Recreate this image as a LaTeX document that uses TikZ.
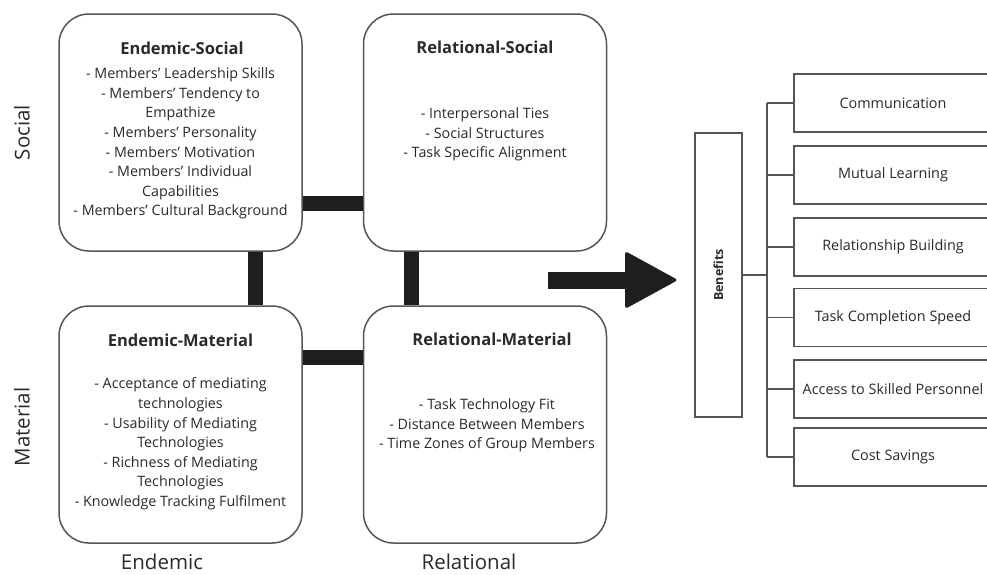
\documentclass[tikz,border=0pt]{standalone}
\usepackage{fontspec}
\setmainfont{Open Sans}
\usetikzlibrary{positioning}
\definecolor{txt}{HTML}{2A2A2A}
\definecolor{edge}{HTML}{555555}
\definecolor{barc}{HTML}{1E1E1E}
\begin{document}
\begin{tikzpicture}[x=1pt,y=-1pt,
  quad/.style={draw=edge,line width=1.5pt,rounded corners=30pt,minimum width=243pt,minimum height=237pt,inner sep=0pt,fill=white},
  qtitle/.style={text=txt,font=\fontsize{16.5}{20}\selectfont\bfseries,inner sep=0pt},
  qitems/.style={text=txt,font=\fontsize{14.3}{19.6}\selectfont,align=center,inner sep=0pt},
  bar/.style={draw=barc,line width=15pt},
  axislab/.style={text=txt,font=\fontsize{20.5}{24}\selectfont,inner sep=0pt},
  benbox/.style={draw=edge,line width=1.3pt,minimum width=198pt,minimum height=58pt,inner sep=0pt,fill=white},
  bentext/.style={text=txt,font=\fontsize{14.4}{16}\selectfont,inner sep=0pt},
  link/.style={draw=edge,line width=1.3pt}
]
\useasboundingbox (0,0) rectangle (987,574);

% quadrant boxes
\node[quad] (ES) at (180.5,132.5) {};
\node[quad] (RS) at (485,132.5) {};
\node[quad] (EM) at (180.5,424.5) {};
\node[quad] (RM) at (485,424.5) {};

% connecting bars
\draw[bar] ([yshift=-70.5pt]ES.east) -- ([yshift=-70.5pt]RS.west);
\draw[bar] ([xshift=74.5pt]ES.south) -- ([xshift=74.5pt]EM.north);
\draw[bar] ([xshift=-74pt]RS.south) -- ([xshift=-74pt]RM.north);
\draw[bar] ([yshift=67.5pt]EM.east) -- ([yshift=67.5pt]RM.west);

% titles and items
\node[qtitle] (EStitle) at (182,48) {Endemic-Social};
\node[qitems] (ESitems) at (180.5,143.5) {- Members' Leadership Skills\\- Members' Tendency to\\Empathize\\- Members' Personality\\- Members' Motivation\\- Members' Individual\\Capabilities\\- Members' Cultural Background};
\node[qtitle] (REtitle) at (485,47) {Relational-Social};
\node[qitems] (RSitems) at (485,134.5) {- Interpersonal Ties\\- Social Structures\\- Task Specific Alignment};
\node[qtitle] (EMtitle) at (180.5,340) {Endemic-Material};
\node[qitems] (EMitems) at (180.5,444) {- Acceptance of mediating\\technologies\\- Usability of Mediating\\Technologies\\- Richness of Mediating\\Technologies\\- Knowledge Tracking Fulfilment};
\node[qtitle] (RMtitle) at (492,339) {Relational-Material};
\node[qitems] (RMitems) at (487,425.5) {- Task Technology Fit\\- Distance Between Members\\- Time Zones of Group Members};

% axis labels
\node[axislab,rotate=90] (social) at (22,132.5) {Social};
\node[axislab,rotate=90] (material) at (22,427) {Material};
\node[axislab] (endemic) at (162,562) {Endemic};
\node[axislab] (relational) at (469,562) {Relational};

% big arrow
\fill[barc] (548,271.5) rectangle (628,288.5);
\fill[barc,rounded corners=3pt] (625,251) -- (678,280) -- (625,309) -- cycle;

% benefits
\node[draw=edge,line width=1.3pt,minimum width=47pt,minimum height=284pt,inner sep=0pt] (ben) at (718.5,275) {};
\node[text=txt,font=\fontsize{12.5}{14}\selectfont\bfseries,rotate=90,inner sep=0pt] (bentitle) at (718.5,275) {Benefits};

\node[benbox] (b1) at (893,103) {};
\node[benbox] (b2) at (893,175) {};
\node[benbox] (b3) at (893,247) {};
\node[benbox] (b4) at (893,317.5) {};
\node[benbox] (b5) at (893,389) {};
\node[benbox] (b6) at (893,457) {};
\node[bentext] (t1) at (b1) {Communication};
\node[bentext] (t2) at (b2) {Mutual Learning};
\node[bentext] (t3) at (b3) {Relationship Building};
\node[bentext] (t4) at (b4) {Task Completion Speed};
\node[bentext] (t5) at (b5) {Access to Skilled Personnel};
\node[bentext] (t6) at (b6) {Cost Savings};

\coordinate (bt) at (767,103);
\coordinate (bb) at (767,457);
\draw[link] (bt) -- (bb);
\draw[link] (ben.east) -- (ben.east -| bt);
\foreach \b in {b1,b2,b3,b4,b5,b6}{
  \draw[link] (\b.west -| bt) -- (\b.west);
}
\end{tikzpicture}
\end{document}
